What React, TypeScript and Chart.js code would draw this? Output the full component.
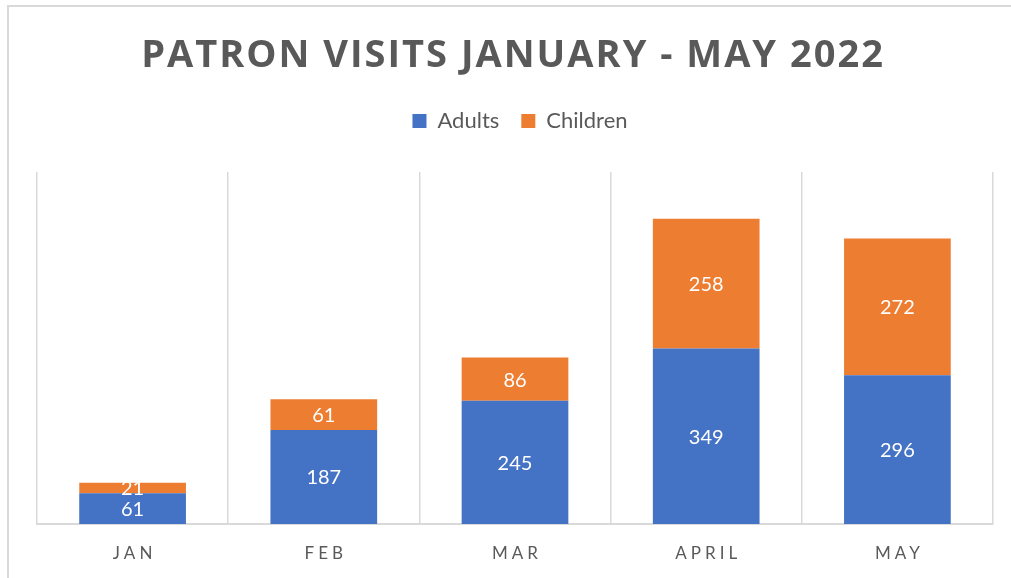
import React, { useEffect, useRef } from "react";
import { Chart, registerables, CategoryScale, layouts } from "chart.js";

Chart.register(...registerables);

const categories = ["JAN", "FEB", "MAR", "APRIL", "MAY"];
const adults = [61, 187, 245, 349, 296];
const children = [21, 61, 86, 258, 272];
const seriesNames = ["Adults", "Children"];
const titleText = "PATRON VISITS JANUARY - MAY 2022";

const BLUE = "#4472C4";
const ORANGE = "#ED7D31";
const GREY_TEXT = "#595959";
const GRID = "#d9d9d9";

class SpacedCategoryScale extends CategoryScale {
  static id = "spacedCategory";
  static defaults = (CategoryScale as any).defaults;
  drawLabels(chartArea: any) {
    const ctx: any = (this as any).ctx;
    ctx.save();
    ctx.letterSpacing = "4px";
    ctx.translate(2, 0);
    super.drawLabels(chartArea);
    ctx.restore();
  }
}
Chart.register(SpacedCategoryScale as any);

const boxTweakPlugin = {
  id: "boxTweaks",
  beforeDraw(chart: any) {
    const tb = chart.titleBlock;
    if (tb && !tb.__wrapped) {
      const orig = tb.draw.bind(tb);
      tb.draw = (area: any) => {
        const ctx: any = chart.ctx;
        ctx.save();
        ctx.letterSpacing = "2px";
        ctx.translate(-2, 0);
        orig(area);
        ctx.restore();
      };
      tb.__wrapped = true;
    }
    const lg = chart.legend;
    if (lg && !lg.__wrapped) {
      const origL = lg.draw.bind(lg);
      lg.draw = (area: any) => {
        const ctx: any = chart.ctx;
        ctx.save();
        ctx.translate(5, 0);
        origL(area);
        ctx.restore();
      };
      lg.__wrapped = true;
    }
  },
};

const spacerPlugin = {
  id: "spacer",
  beforeInit(chart: any) {
    const box: any = {
      position: "top",
      weight: 1,
      fullSize: true,
      options: {},
      width: 0,
      height: 30,
      left: 0,
      top: 0,
      right: 0,
      bottom: 0,
      isHorizontal() {
        return true;
      },
      update(maxWidth: number) {
        this.width = maxWidth;
        this.height = 30;
      },
      draw() {},
    };
    layouts.addBox(chart, box);
  },
};

const dataLabelPlugin = {
  id: "dataLabels",
  afterDatasetsDraw(chart: any) {
    const ctx = chart.ctx;
    ctx.save();
    ctx.font = '20px Lato';
    ctx.fillStyle = "#ffffff";
    ctx.textAlign = "center";
    ctx.textBaseline = "middle";
    chart.data.datasets.forEach((ds: any, i: number) => {
      const meta = chart.getDatasetMeta(i);
      meta.data.forEach((el: any, j: number) => {
        const p = el.getCenterPoint();
        ctx.fillText(String(ds.data[j]), p.x, p.y + 1);
      });
    });
    ctx.restore();
  },
};

export default function App() {
  const canvasRef = useRef<HTMLCanvasElement | null>(null);

  useEffect(() => {
    let chart: Chart | null = null;
    let cancelled = false;
    const make = () => {
      if (cancelled || !canvasRef.current) return;
      chart = new Chart(canvasRef.current, {
        type: "bar",
        data: {
          labels: categories,
          datasets: [
            { label: seriesNames[0], data: adults, backgroundColor: BLUE, borderWidth: 0 },
            { label: seriesNames[1], data: children, backgroundColor: ORANGE, borderWidth: 0 },
          ],
        },
        options: {
          animation: false,
          responsive: false,
          maintainAspectRatio: false,
          barPercentage: 0.558,
          categoryPercentage: 1,
          layout: { padding: { top: 0, left: 37, right: 18, bottom: 10.6 } },
          plugins: {
            title: {
              display: true,
              text: titleText,
              color: GREY_TEXT,
              font: { family: "'Open Sans'", size: 38, weight: "bold", lineHeight: 1.2 },
              padding: { top: 33, bottom: 9.4 },
            },
            legend: {
              display: true,
              position: "top",
              labels: {
                color: GREY_TEXT,
                font: { family: "Lato", size: 22 },
                boxWidth: 14,
                boxHeight: 14,
                padding: 22,
              },
            },
            tooltip: { enabled: false },
          },
          scales: {
            x: {
              type: "spacedCategory" as any,
              stacked: true,
              offset: true,
              grid: {
                offset: true,
                display: true,
                color: GRID,
                lineWidth: 1.5,
                drawTicks: true,
                tickLength: 15,
                tickColor: "rgba(0,0,0,0)",
              },
              border: { display: true, color: GRID, width: 2 },
              ticks: {
                color: GREY_TEXT,
                font: { family: "Lato", size: 17, lineHeight: 1.2 },
                padding: 4,
                maxRotation: 0,
                autoSkip: false,
              },
            },
            y: {
              stacked: true,
              display: false,
              min: 0,
              max: 700,
            },
          },
        } as any,
        plugins: [boxTweakPlugin, spacerPlugin, dataLabelPlugin],
      });
    };
    const fontsReady = (document as any).fonts
      ? Promise.all([
          (document as any).fonts.load("bold 38px 'Open Sans'"),
          (document as any).fonts.load("22px Lato"),
        ]).catch(() => null)
      : Promise.resolve();
    fontsReady.then(make);
    return () => {
      cancelled = true;
      if (chart) chart.destroy();
    };
  }, []);

  return (
    <div
      style={{
        position: "fixed",
        left: 0,
        top: 0,
        width: 1011,
        height: 578,
        overflow: "hidden",
        background: "#ffffff",
      }}
    >
      <div
        style={{
          position: "absolute",
          left: 7,
          top: 5,
          width: 1100,
          height: 700,
          border: "2px solid #d9d9d9",
        }}
      />
      <canvas
        ref={canvasRef}
        width={1011}
        height={578}
        style={{ position: "absolute", left: 0, top: 0, width: 1011, height: 578 }}
      />
    </div>
  );
}
